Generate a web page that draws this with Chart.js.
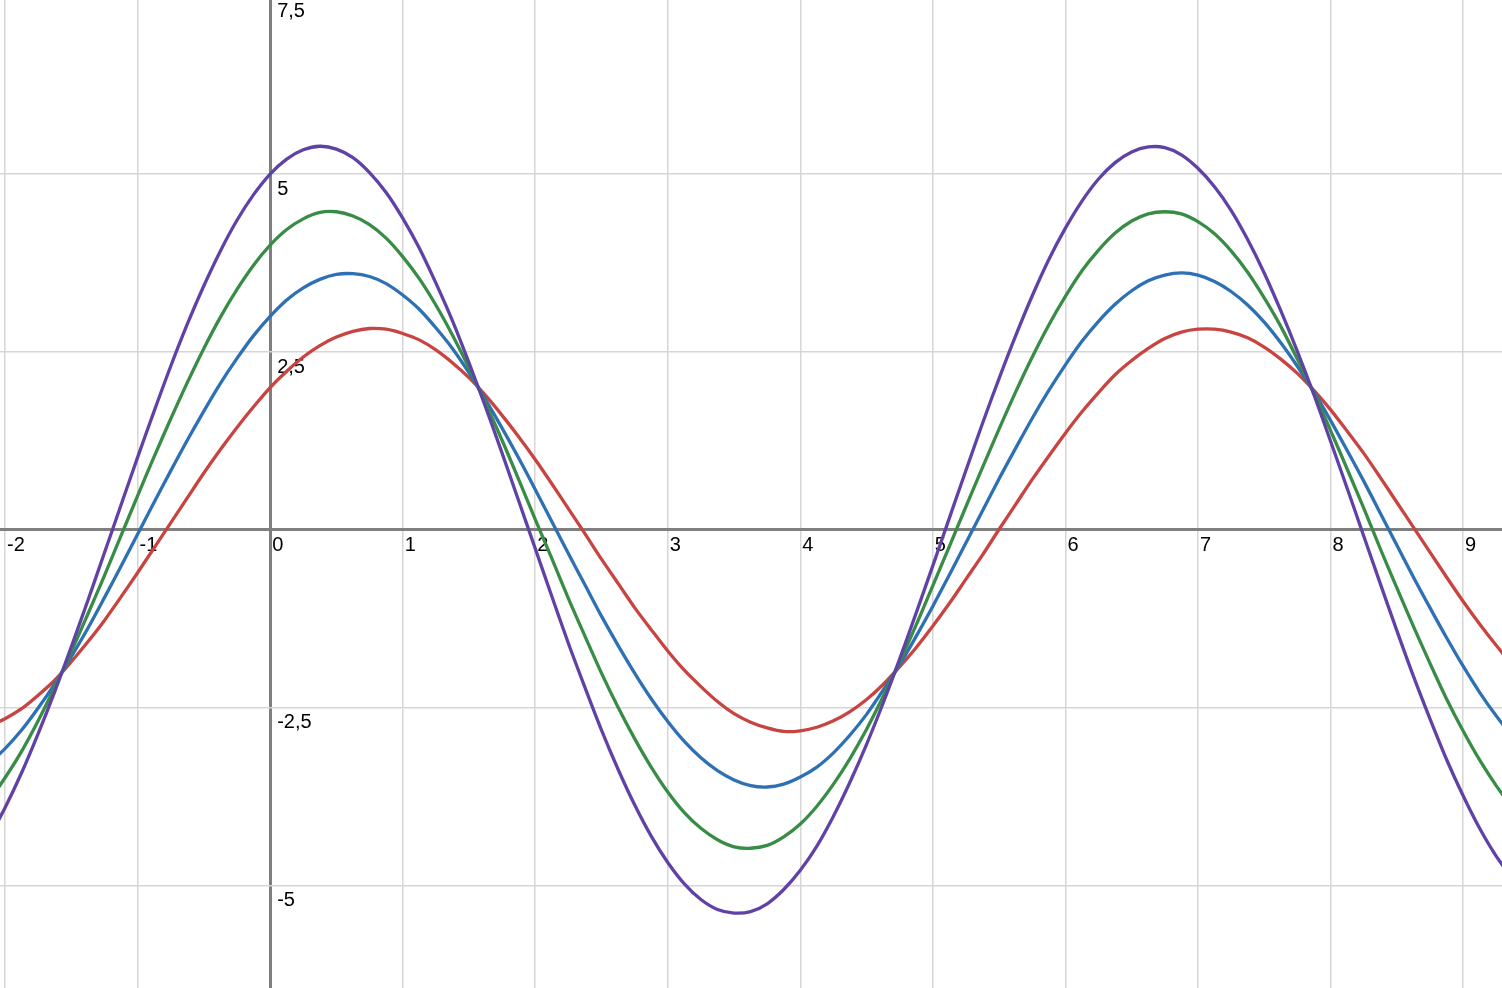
<!DOCTYPE html>
<html>
<head>
<meta charset="utf-8">
<script src="https://cdn.jsdelivr.net/npm/chart.js@4"></script>
<style>
  html, body { margin: 0; padding: 0; background: #fff; }
  #wrap { width: 1502px; height: 988px; position: relative; }
</style>
</head>
<body>
<div id="wrap"><canvas id="graph"></canvas></div>
<script>
  // x positions that the curves were read at (every 1/8)
  const xs = [-2.25,-2.125,-2,-1.875,-1.75,-1.625,-1.5,-1.375,-1.25,-1.125,-1,-0.875,-0.75,-0.625,-0.5,-0.375,-0.25,-0.125,
    0,0.125,0.25,0.375,0.5,0.625,0.75,0.875,1,1.125,1.25,1.375,1.5,1.625,1.75,1.875,
    2,2.125,2.25,2.375,2.5,2.625,2.75,2.875,3,3.125,3.25,3.375,3.5,3.625,3.75,3.875,
    4,4.125,4.25,4.375,4.5,4.625,4.75,4.875,5,5.125,5.25,5.375,5.5,5.625,5.75,5.875,
    6,6.125,6.25,6.375,6.5,6.625,6.75,6.875,7,7.125,7.25,7.375,7.5,7.625,7.75,7.875,
    8,8.125,8.25,8.375,8.5,8.625,8.75,8.875,9,9.125,9.25,9.375,9.5];

  const redY = [-2.81,-2.75,-2.65,-2.51,-2.32,-2.11,-1.85,-1.57,-1.27,-0.94,-0.60,-0.25,0.10,0.45,0.80,1.13,1.44,1.73,
    2.00,2.23,2.43,2.59,2.71,2.79,2.83,2.82,2.76,2.67,2.53,2.35,2.14,1.89,1.61,1.31,
    0.99,0.65,0.30,-0.05,-0.41,-0.75,-1.09,-1.40,-1.70,-1.97,-2.20,-2.41,-2.58,-2.70,-2.78,-2.83,
    -2.82,-2.77,-2.68,-2.55,-2.38,-2.17,-1.92,-1.65,-1.35,-1.03,-0.69,-0.35,0.01,0.36,0.71,1.04,
    1.36,1.66,1.93,2.18,2.38,2.55,2.69,2.78,2.82,2.82,2.78,2.70,2.57,2.40,2.20,1.96,
    1.69,1.39,1.08,0.74,0.39,0.04,-0.31,-0.66,-1.00,-1.32,-1.62,-1.90,-2.14];
  const blueY = [-3.44,-3.28,-3.07,-2.81,-2.50,-2.16,-1.78,-1.38,-0.95,-0.51,-0.06,0.39,0.83,1.26,1.67,2.06,2.41,2.73,
    3.00,3.23,3.40,3.52,3.59,3.60,3.56,3.46,3.30,3.10,2.84,2.55,2.21,1.83,1.43,1.01,
    0.57,0.12,-0.33,-0.77,-1.21,-1.62,-2.01,-2.37,-2.69,-2.97,-3.20,-3.38,-3.51,-3.59,-3.61,-3.57,
    -3.47,-3.33,-3.13,-2.88,-2.59,-2.25,-1.89,-1.49,-1.07,-0.63,-0.18,0.27,0.72,1.15,1.57,1.96,
    2.32,2.65,2.93,3.17,3.36,3.50,3.58,3.61,3.58,3.49,3.35,3.16,2.92,2.63,2.30,1.94,
    1.54,1.12,0.69,0.24,-0.21,-0.66,-1.09,-1.51,-1.91,-2.28,-2.61,-2.90,-3.14];
  const greenY = [-4.07,-3.81,-3.48,-3.11,-2.68,-2.21,-1.71,-1.18,-0.64,-0.08,0.48,1.03,1.56,2.07,2.55,2.99,3.38,3.72,
    4.00,4.22,4.37,4.46,4.47,4.41,4.29,4.10,3.84,3.53,3.16,2.74,2.28,1.78,1.26,0.71,
    0.15,-0.40,-0.96,-1.49,-2.01,-2.49,-2.93,-3.33,-3.68,-3.97,-4.19,-4.35,-4.45,-4.47,-4.43,-4.31,
    -4.13,-3.88,-3.57,-3.21,-2.80,-2.34,-1.85,-1.33,-0.78,-0.23,0.33,0.88,1.42,1.94,2.43,2.88,
    3.28,3.64,3.93,4.17,4.34,4.44,4.47,4.44,4.33,4.16,3.92,3.62,3.26,2.86,2.40,1.92,
    1.40,0.86,0.31,-0.26,-0.81,-1.35,-1.87,-2.37,-2.82,-3.23,-3.59,-3.90,-4.14];
  const purpleY = [-4.70,-4.33,-3.90,-3.41,-2.86,-2.27,-1.64,-0.99,-0.32,0.35,1.02,1.67,2.30,2.89,3.43,3.92,4.35,4.71,
    5.00,5.21,5.34,5.39,5.35,5.23,5.02,4.74,4.38,3.96,3.47,2.94,2.35,1.73,1.08,0.41,
    -0.26,-0.93,-1.59,-2.21,-2.81,-3.36,-3.86,-4.30,-4.67,-4.97,-5.19,-5.33,-5.38,-5.36,-5.25,-5.05,
    -4.78,-4.44,-4.02,-3.54,-3.01,-2.43,-1.81,-1.16,-0.50,0.17,0.84,1.50,2.13,2.73,3.29,3.80,
    4.24,4.62,4.93,5.16,5.31,5.38,5.37,5.27,5.08,4.82,4.49,4.08,3.61,3.08,2.51,1.90,
    1.25,0.59,-0.08,-0.75,-1.41,-2.05,-2.65,-3.22,-3.73,-4.19,-4.58,-4.89,-5.14];

  // grid / tick labels
  const xTicks = [-2,-1,0,1,2,3,4,5,6,7,8,9];
  const xTickLabels = ['-2','-1','0','1','2','3','4','5','6','7','8','9'];
  const yTicks = [-5,-2.5,0,2.5,5];
  const yLabelVals = [-5,-2.5,2.5,5,7.5];
  const yTickLabels = ['-5','-2,5','2,5','5','7,5'];

  function pts(ys) {
    return xs.map((x, i) => ({x: x, y: ys[i]}));
  }

  function curve(label, ys, color, order) {
    return {
      label: label,
      data: pts(ys),
      borderColor: color,
      backgroundColor: color,
      borderWidth: 3.3,
      pointRadius: 0,
      tension: 0.3,
      fill: false,
      order: order
    };
  }

  // labels sit next to the axes, under the curves
  const axisLabels = {
    id: 'axisLabels',
    beforeDatasetsDraw(chart) {
      const c = chart.ctx;
      const sx = chart.scales.x, sy = chart.scales.y;
      const x0 = sx.getPixelForValue(0), y0 = sy.getPixelForValue(0);
      c.save();
      c.fillStyle = '#000';
      c.font = '20px "Liberation Sans", Arial, sans-serif';
      c.textAlign = 'left';
      c.textBaseline = 'top';
      xTicks.forEach((v, i) => {
        c.fillText(xTickLabels[i], sx.getPixelForValue(v) + 2, y0 + 5);
      });
      yLabelVals.forEach((v, i) => {
        let py = sy.getPixelForValue(v) + 5;
        if (py < 1) py = 1;
        c.fillText(yTickLabels[i], x0 + 7, py);
      });
      c.restore();
    }
  };

  function gridColor(ctx) {
    return ctx.tick && ctx.tick.value === 0 ? '#7f7f7f' : '#d6d6d6';
  }
  function gridWidth(ctx) {
    return ctx.tick && ctx.tick.value === 0 ? 3 : 1.5;
  }

  const graph = new Chart(document.getElementById('graph'), {
    type: 'line',
    data: {
      datasets: [
        curve('red', redY, '#c74440', 4),
        curve('blue', blueY, '#2d70b3', 3),
        curve('green', greenY, '#388c46', 2),
        curve('purple', purpleY, '#6042a6', 1)
      ]
    },
    options: {
      responsive: true,
      maintainAspectRatio: false,
      animation: false,
      layout: { padding: 0 },
      plugins: { legend: { display: false }, tooltip: { enabled: false } },
      scales: {
        x: {
          type: 'linear',
          min: -2.038,
          max: 9.294,
          afterBuildTicks: s => { s.ticks = xTicks.map(v => ({value: v})); },
          ticks: { display: false },
          border: { display: false },
          grid: { drawTicks: false, color: gridColor, lineWidth: gridWidth }
        },
        y: {
          type: 'linear',
          min: -6.433,
          max: 7.444,
          afterBuildTicks: s => { s.ticks = yTicks.map(v => ({value: v})); },
          ticks: { display: false },
          border: { display: false },
          grid: { drawTicks: false, color: gridColor, lineWidth: gridWidth }
        }
      }
    },
    plugins: [axisLabels]
  });
</script>
</body>
</html>
